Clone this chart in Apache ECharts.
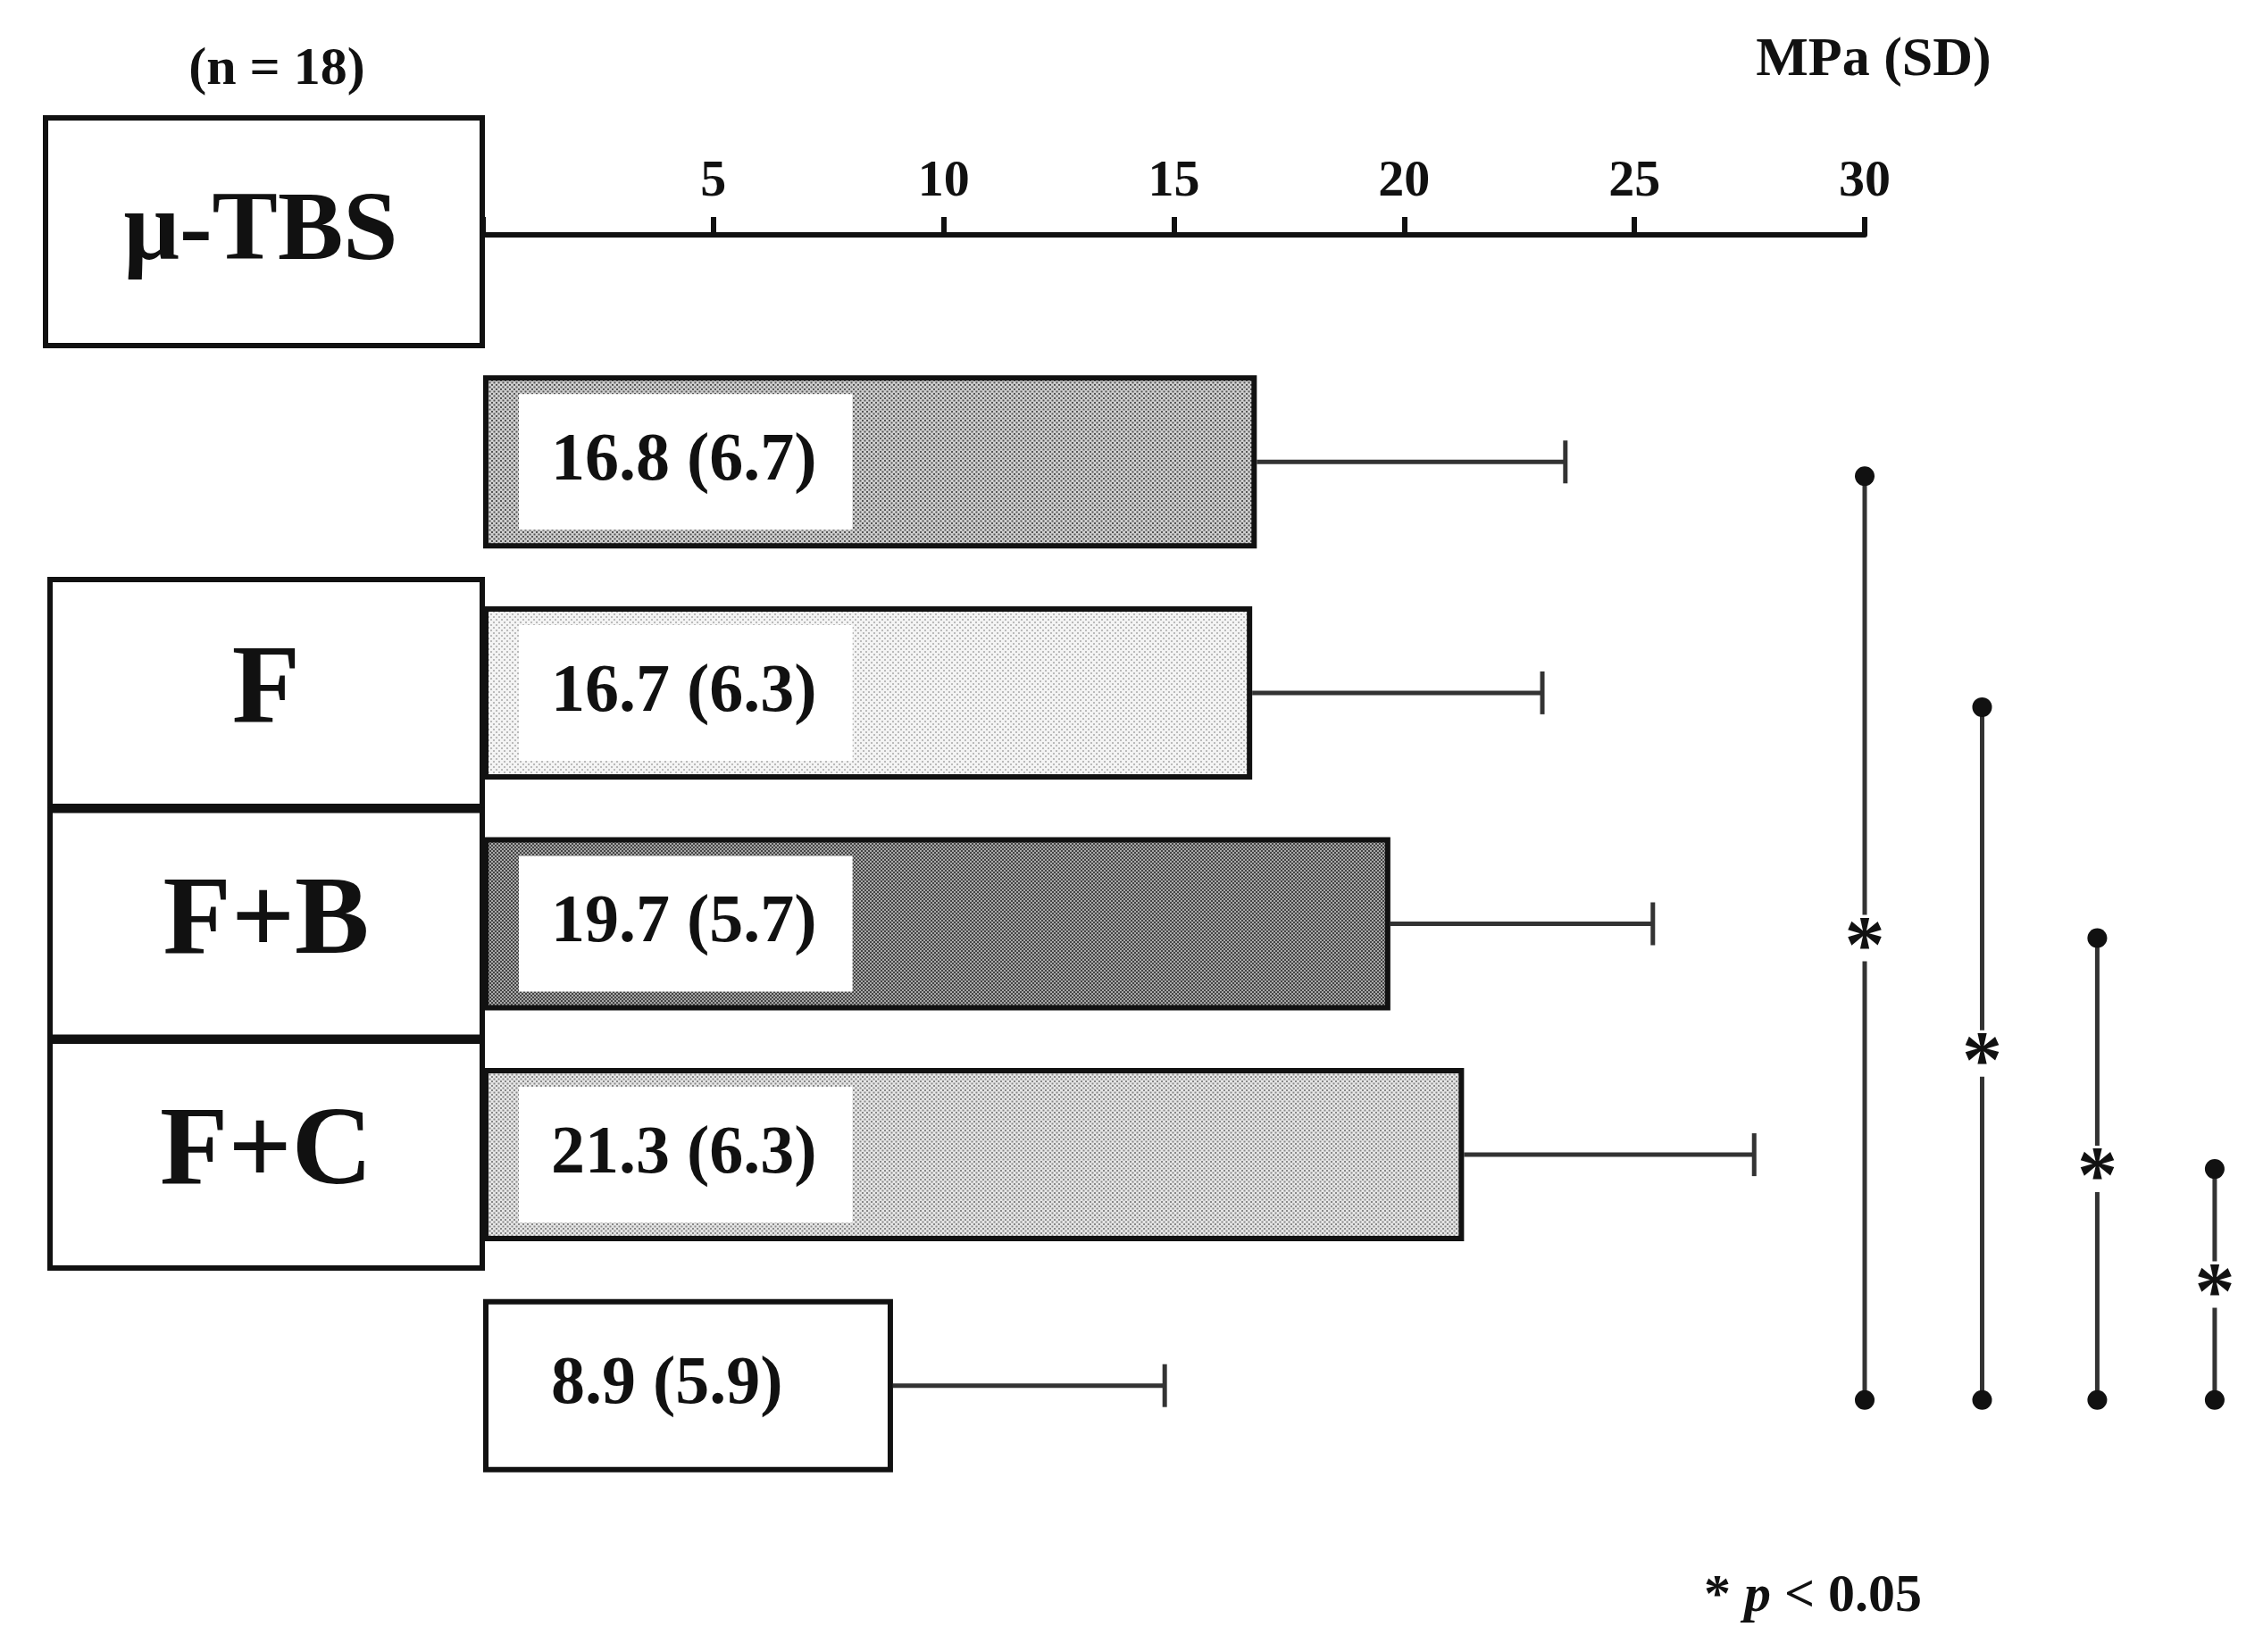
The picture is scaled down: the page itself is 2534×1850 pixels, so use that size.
<!DOCTYPE html>
<html><head><meta charset="utf-8">
<script src="https://cdn.jsdelivr.net/npm/echarts@6/dist/echarts.min.js"></script>
<style>html,body{margin:0;background:#fff}#c{width:2534px;height:1850px}</style>
</head><body><div id="c"></div>
<script>
// 数据
var groups = ['B', 'F', 'F+B', 'F+C', 'C'];
var means = [16.8, 16.7, 19.7, 21.3, 8.9];
var sds = [6.7, 6.3, 5.7, 6.3, 5.9];
var xTicks = [5, 10, 15, 20, 25, 30];
// 显著性比较: [起, 止, x位置]
var sigPairs = [['B', 'C', 30], ['F', 'C', 32.55], ['F+B', 'C', 35.05], ['F+C', 'C', 37.6]];

var serif = '"Liberation Serif", "DejaVu Serif", serif';

// 点状纹理
function dots(bg, fg, step, r) {
  var cv = document.createElement('canvas');
  cv.width = cv.height = step;
  var ctx = cv.getContext('2d');
  ctx.fillStyle = bg; ctx.fillRect(0, 0, step, step);
  ctx.fillStyle = fg;
  ctx.fillRect(0, 0, r, r);
  ctx.fillRect(step / 2, step / 2, r, r);
  return { image: cv, repeat: 'repeat' };
}
var fills = [
  dots('#d0d0d0', '#555', 5, 2),
  dots('#f4f4f4', '#bbb', 6, 2),
  dots('#a8a8a8', '#444', 4, 2),
  dots('#e6e6e6', '#888', 5, 2),
  '#ffffff'
];

var chart = echarts.init(document.getElementById('c'));
chart.setOption({
  backgroundColor: '#fff',
  animation: false,
  grid: { left: 541, width: 1547, top: 388, height: 1293 },
  xAxis: {
    type: 'value', position: 'top', min: 0, max: 30, interval: 5, offset: 125,
    axisLine: { show: true, lineStyle: { color: '#111', width: 6 } },
    axisTick: { show: true, length: 20, lineStyle: { color: '#111', width: 6 } },
    axisLabel: { color: '#111', fontFamily: serif, fontWeight: 'bold', fontSize: 58, margin: 30,
      formatter: function (v) { return xTicks.indexOf(v) >= 0 ? v : ''; } },
    splitLine: { show: false }
  },
  yAxis: {
    type: 'category', data: groups, inverse: true,
    axisLine: { show: false }, axisTick: { show: false },
    axisLabel: {
      margin: 4,
      formatter: function (v) { return '{b|' + v + '}'; },
      rich: { b: { width: 478, height: 248, align: 'center', verticalAlign: 'middle',
        backgroundColor: '#fff', borderColor: '#111', borderWidth: 6,
        fontFamily: serif, fontWeight: 'bold', fontSize: 125, color: '#111' } }
    }
  },
  graphic: [
    { type: 'rect', left: 48, top: 129, shape: { width: 489, height: 255 },
      style: { fill: '#fff', stroke: '#111', lineWidth: 6 } },
    { type: 'text', x: 292, y: 262, style: { text: 'μ-TBS', fontFamily: serif, fontWeight: 'bold',
      fontSize: 110, fill: '#111', align: 'center', verticalAlign: 'middle' } },
    { type: 'text', x: 310, y: 78, style: { text: '(n = 18)', fontFamily: serif, fontWeight: 'bold',
      fontSize: 60, fill: '#111', align: 'center', verticalAlign: 'middle' } },
    { type: 'text', x: 2098, y: 68, style: { text: 'MPa (SD)', fontFamily: serif, fontWeight: 'bold',
      fontSize: 62, fill: '#111', align: 'center', verticalAlign: 'middle' } },
    { type: 'text', x: 2030, y: 1788, style: { text: '{s|*} {p|p} < 0.05',
      rich: { s: { fontSize: 60, fontFamily: serif, fontWeight: 'bold' },
              p: { fontSize: 60, fontFamily: serif, fontStyle: 'italic', fontWeight: 'bold' } },
      fontFamily: serif, fontWeight: 'bold', fontSize: 60, fill: '#111', align: 'center', verticalAlign: 'middle' } }
  ],
  series: [
    {
      type: 'bar', barWidth: 194,
      data: means.map(function (m, i) {
        return { value: m, itemStyle: { color: fills[i] } };
      }),
      itemStyle: { borderColor: '#111', borderWidth: 6 },
      label: {
        show: true, position: 'insideLeft', distance: 40,
        formatter: function (p) { return p.value.toFixed(1) + ' (' + sds[p.dataIndex].toFixed(1) + ')'; },
        backgroundColor: '#fff', padding: [38, 40, 38, 36],
        fontFamily: serif, fontWeight: 'bold', fontSize: 76, color: '#111'
      }
    },
    {
      type: 'custom', clip: false,
      data: means.map(function (m, i) { return [m, i, sds[i]]; }),
      renderItem: function (params, api) {
        var a = api.coord([api.value(0), api.value(1)]);
        var b = api.coord([api.value(0) + api.value(2), api.value(1)]);
        var st = { stroke: '#333', lineWidth: 5 };
        return { type: 'group', children: [
          { type: 'line', shape: { x1: a[0], y1: a[1], x2: b[0], y2: b[1] }, style: st },
          { type: 'line', shape: { x1: b[0], y1: b[1] - 24, x2: b[0], y2: b[1] + 24 }, style: st }
        ] };
      }
    },
    {
      type: 'custom', clip: false,
      data: sigPairs.map(function (s) { return [s[2], groups.indexOf(s[0]), groups.indexOf(s[1])]; }),
      renderItem: function (params, api) {
        var p1 = api.coord([api.value(0), api.value(1)]);
        var p2 = api.coord([api.value(0), api.value(2)]);
        p1[1] += 16; p2[1] += 16;
        var my = (p1[1] + p2[1]) / 2;
        return { type: 'group', children: [
          { type: 'line', shape: { x1: p1[0], y1: p1[1], x2: p2[0], y2: p2[1] }, style: { stroke: '#333', lineWidth: 5 } },
          { type: 'circle', shape: { cx: p1[0], cy: p1[1], r: 11 }, style: { fill: '#111' } },
          { type: 'circle', shape: { cx: p2[0], cy: p2[1], r: 11 }, style: { fill: '#111' } },
          { type: 'rect', shape: { x: p1[0] - 22, y: my - 26, width: 44, height: 52 }, style: { fill: '#fff' } },
          { type: 'text', x: p1[0], y: my + 14, style: { text: '*', fontFamily: serif, fontWeight: 'bold',
            fontSize: 90, fill: '#111', align: 'center', verticalAlign: 'middle' } }
        ] };
      }
    }
  ]
});
</script></body></html>
